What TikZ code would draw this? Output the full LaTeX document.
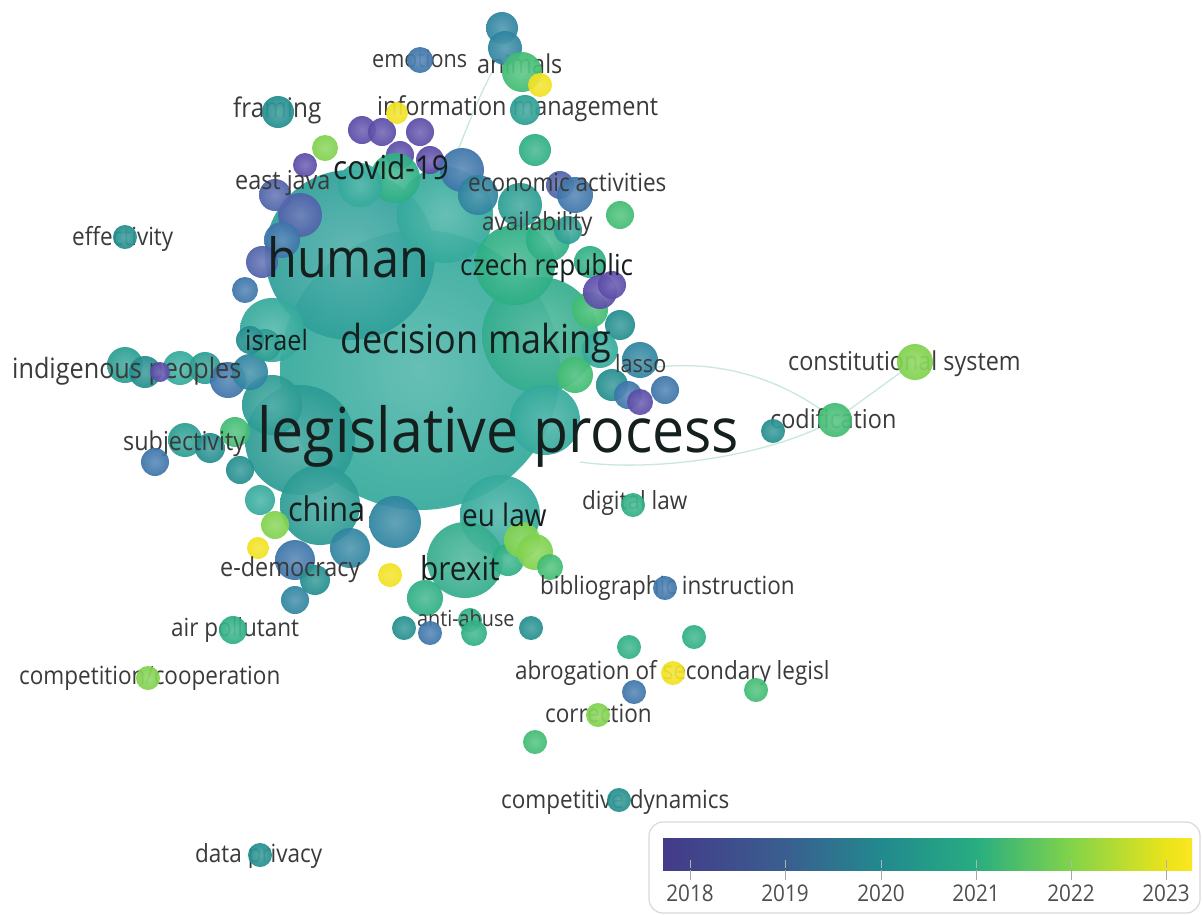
\documentclass[tikz,border=0pt]{standalone}
\usepackage{fontspec}
\setmainfont{Open Sans}
\definecolor{v18}{HTML}{5A4BA8}
\definecolor{v185}{HTML}{4F62AA}
\definecolor{v19}{HTML}{3C74AA}
\definecolor{v195}{HTML}{2E84A0}
\definecolor{v20}{HTML}{228E8E}
\definecolor{v205}{HTML}{2A9E92}
\definecolor{v21}{HTML}{2DAF84}
\definecolor{v215}{HTML}{40BC72}
\definecolor{v22}{HTML}{7FD24C}
\definecolor{v225}{HTML}{A9DB35}
\definecolor{v23}{HTML}{F2E21C}
\definecolor{tealA}{HTML}{2FA09A}
\definecolor{tealB}{HTML}{34AA9C}
\definecolor{tealC}{HTML}{2C9C94}
\definecolor{tealD}{HTML}{35AD8E}
\definecolor{lblgray}{HTML}{3A3A3A}
\definecolor{lbldark}{HTML}{151F1E}
\definecolor{linkc}{HTML}{C9E8DA}
\definecolor{cb0}{HTML}{443A8A}
\definecolor{cb1}{HTML}{3A5E8F}
\definecolor{cb2}{HTML}{22898E}
\definecolor{cb3}{HTML}{27AD81}
\definecolor{cb4}{HTML}{82D34A}
\definecolor{cb5}{HTML}{EAE41A}
\definecolor{cb6}{HTML}{FAE622}
\newcommand\bub[4]{\shade[inner color=#4!80!white, outer color=#4, bubble] (#1,#2) circle (#3pt);}
\newcommand\fsz[1]{\fontsize{#1}{#1}\selectfont}
\tikzset{
  bubble/.style={fill opacity=0.93},
  lbl/.style={anchor=base west, inner sep=0pt, text=lblgray, xscale=0.9},
  biglbl/.style={lbl, text=lbldark},
  link/.style={draw=linkc, line width=1.3pt},
  yearlbl/.style={anchor=base, inner sep=0pt, text=lblgray!90, font=\fsz{23}, xscale=0.9},
  tick/.style={draw=gray!70, line width=1pt},
  intick/.style={draw=black!30, line width=0.8pt}
}
\begin{document}
\begin{tikzpicture}[x=1pt,y=-1pt]
\useasboundingbox (0,0) rectangle (1203,914);
\fill[white] (0,0) rectangle (1203,914);
% connector end points
\coordinate (lassoR) at (650,368);
\coordinate (lpR) at (580,462);
\coordinate (cod) at (835,420);
\coordinate (cons) at (915,362);
\coordinate (anim) at (492,72);
\coordinate (topc) at (458,150);
\draw[link] (lassoR) .. controls (720,358) and (785,380) .. (cod);
\draw[link] (lpR) .. controls (650,472) and (765,458) .. (cod);
\draw[link] (cod) -- (cons);
\draw[link] (anim) .. controls (478,100) .. (topc);
% main cluster
\bub{420}{370}{140}{tealB}
\bub{350}{255}{85}{tealA}
\bub{540}{335}{58}{tealD}
\bub{300}{440}{55}{tealC}
\bub{445}{215}{48}{tealB}
\bub{515}{265}{40}{v21}
\bub{272}{330}{32}{tealB}
\bub{272}{405}{30}{tealC}
\bub{545}{420}{35}{tealB}
\bub{320}{505}{40}{tealC}
\bub{500}{515}{40}{tealB}
\bub{465}{560}{38}{tealD}
\bub{395}{522}{26}{v195}
\bub{350}{548}{20}{v195}
% upper left
\bub{300}{215}{22}{v185}
\bub{282}{240}{18}{v19}
\bub{262}{262}{16}{v185}
\bub{245}{290}{13}{v19}
\bub{275}{195}{16}{v185}
\bub{305}{165}{12}{v18}
\bub{325}{148}{13}{v22}
\bub{362}{130}{14}{v18}
\bub{382}{132}{14}{v18}
\bub{420}{132}{14}{v18}
\bub{400}{155}{14}{v18}
\bub{430}{160}{14}{v18}
\bub{395}{178}{25}{v21}
\bub{360}{185}{22}{tealB}
\bub{462}{170}{22}{v19}
\bub{478}{195}{20}{v195}
% upper right
\bub{535}{150}{16}{v21}
\bub{520}{205}{22}{v205}
\bub{548}{240}{22}{v21}
\bub{560}{185}{14}{v185}
\bub{575}{195}{18}{v19}
\bub{620}{215}{14}{v215}
\bub{568}{230}{14}{v205}
\bub{590}{262}{16}{v21}
\bub{590}{310}{18}{v215}
\bub{600}{292}{17}{v18}
\bub{612}{285}{14}{v18}
\bub{620}{325}{15}{v20}
% lasso area
\bub{600}{350}{18}{tealB}
\bub{575}{375}{18}{v215}
\bub{640}{360}{18}{v195}
\bub{612}{385}{16}{v20}
\bub{628}{395}{14}{v19}
\bub{665}{390}{14}{v19}
\bub{640}{402}{13}{v18}
% left
\bub{125}{365}{18}{v205}
\bub{145}{372}{16}{v20}
\bub{180}{368}{17}{tealB}
\bub{205}{368}{16}{v205}
\bub{228}{380}{18}{v19}
\bub{250}{372}{18}{v195}
\bub{265}{345}{16}{v205}
\bub{250}{340}{14}{v20}
\bub{185}{440}{17}{v205}
\bub{210}{448}{15}{v20}
\bub{240}{470}{14}{v20}
\bub{235}{432}{15}{v215}
\bub{260}{500}{15}{tealB}
\bub{275}{525}{14}{v22}
\bub{258}{548}{11}{v23}
\bub{295}{560}{20}{v19}
\bub{315}{580}{15}{v20}
\bub{295}{600}{14}{v195}
% bottom of cluster
\bub{390}{575}{12}{v23}
\bub{425}{598}{18}{v21}
\bub{470}{620}{12}{v21}
\bub{508}{560}{16}{v21}
\bub{522}{540}{18}{v22}
\bub{535}{552}{18}{v22}
\bub{550}{567}{13}{v215}
% labels
\node[lbl, font=\fsz{24}] (emotions) at (372,67) {emotions};
\node[lbl, font=\fsz{26}] (animals) at (477,73) {animals};
\node[lbl, font=\fsz{27}] (framing) at (233,117) {framing};
\node[lbl, font=\fsz{26}] (infomgmt) at (377,115) {information management};
\node[biglbl, font=\fsz{33}] (covid) at (333,179) {covid-19};
\node[lbl, font=\fsz{26}] (eastjava) at (235,189) {east java};
\node[lbl, font=\fsz{25}] (econ) at (468,191) {economic activities};
\node[lbl, font=\fsz{25}] (avail) at (482,230) {availability};
\node[lbl, font=\fsz{25}] (effect) at (72,245) {effectivity};
\node[biglbl, font=\fsz{54}] (human) at (267,277) {human};
\node[biglbl, font=\fsz{29}] (czech) at (460,275) {czech republic};
\node[biglbl, font=\fsz{28}] (israel) at (245,350) {israel};
\node[biglbl, font=\fsz{40}] (decision) at (340,353) {decision making};
\node[lbl, font=\fsz{28}] (indig) at (12,378) {indigenous peoples};
\node[lbl, font=\fsz{24}] (lasso) at (615,372) {lasso};
\node[lbl, font=\fsz{26}] (constsys) at (788,370) {constitutional system};
\node[biglbl, font=\fsz{62}, xscale=1.025] (legproc) at (257,452) {legislative process};
\node[lbl, font=\fsz{26}] (subj) at (123,450) {subjectivity};
\node[lbl, font=\fsz{26}] (codif) at (770,428) {codification};
\node[biglbl, font=\fsz{34}] (china) at (288,521) {china};
\node[biglbl, font=\fsz{31}] (eulaw) at (462,526) {eu law};
\node[lbl, font=\fsz{25}] (diglaw) at (582,509) {digital law};
\node[lbl, font=\fsz{26}] (edem) at (220,576) {e-democracy};
\node[biglbl, font=\fsz{33}] (brexit) at (420,580) {brexit};
\node[lbl, font=\fsz{25}] (biblio) at (540,594) {bibliographic instruction};
\node[lbl, font=\fsz{25}] (airpol) at (171,636) {air pollutant};
\node[lbl, font=\fsz{22}] (antiab) at (417,626) {anti-abuse};
\node[lbl, font=\fsz{25}] (compcoop) at (19,684) {competition/cooperation};
\node[lbl, font=\fsz{25}] (abrog) at (515,679) {abrogation of secondary legisl};
\node[lbl, font=\fsz{25}] (correct) at (545,722) {correction};
\node[lbl, font=\fsz{25}] (compdyn) at (501,808) {competitive dynamics};
\node[lbl, font=\fsz{25}] (dataprv) at (195,862) {data privacy};
% isolated bubbles over labels
\bub{502}{28}{16}{v195}
\bub{505}{48}{17}{v195}
\bub{420}{60}{13}{v19}
\bub{522}{72}{20}{v215}
\bub{540}{85}{12}{v23}
\bub{525}{110}{15}{v205}
\bub{397}{113}{11}{v23}
\bub{278}{112}{16}{v20}
\bub{125}{237}{12}{v20}
\bub{160}{372}{10}{v18}
\bub{155}{462}{14}{v19}
\bub{773}{431}{12}{v20}
\bub{835}{420}{17}{v215}
\bub{915}{362}{18}{v22}
\bub{633}{505}{12}{v21}
\bub{665}{588}{12}{v19}
\bub{233}{630}{14}{v21}
\bub{148}{678}{12}{v22}
\bub{404}{628}{12}{v20}
\bub{430}{633}{12}{v19}
\bub{474}{633}{13}{v21}
\bub{531}{628}{12}{v20}
\bub{629}{647}{12}{v21}
\bub{694}{637}{12}{v21}
\bub{673}{673}{12}{v23}
\bub{634}{692}{12}{v19}
\bub{756}{690}{12}{v215}
\bub{598}{715}{12}{v22}
\bub{535}{742}{12}{v215}
\bub{619}{800}{12}{v20}
\bub{260}{855}{12}{v20}
% legend
\draw[draw=gray!30, line width=1.2pt, rounded corners=14pt] (649,822) rectangle (1200,913);
\shade[left color=cb0, right color=cb1] (663,838) rectangle (785,870);
\shade[left color=cb1, right color=cb2] (785,838) rectangle (881,870);
\shade[left color=cb2, right color=cb3] (881,838) rectangle (976,870);
\shade[left color=cb3, right color=cb4] (976,838) rectangle (1071,870);
\shade[left color=cb4, right color=cb5] (1071,838) rectangle (1166,870);
\shade[left color=cb5, right color=cb6] (1166,838) rectangle (1192,870);
\foreach \x/\yr in {690/2018,785/2019,881/2020,976/2021,1071/2022,1166/2023}{
  \draw[intick] (\x,860) -- (\x,868);
  \draw[tick] (\x,870) -- (\x,880);
  \node[yearlbl] at (\x,901) {\yr};
}
\end{tikzpicture}
\end{document}
